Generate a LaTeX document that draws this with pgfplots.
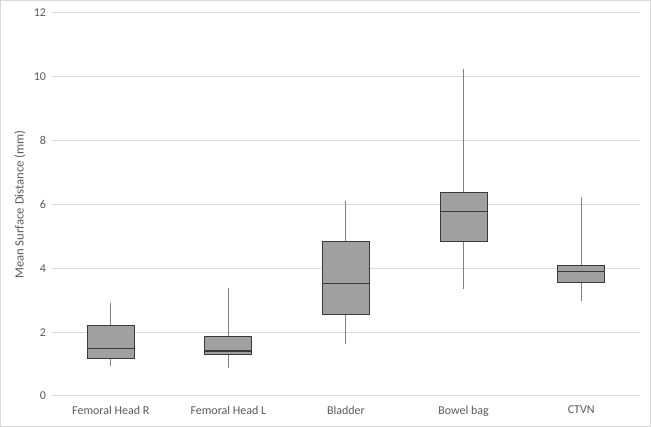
\documentclass[border=0pt]{standalone}
\usepackage{pgfplots}
\pgfplotsset{compat=1.18}
\usepgfplotslibrary{statistics}
\usepackage{fontspec}
\setmainfont{Carlito}
\definecolor{boxfill}{HTML}{A0A0A0}
\definecolor{boxedge}{HTML}{3A3A3A}
\definecolor{whiskgray}{HTML}{808080}
\definecolor{gridgray}{HTML}{D9D9D9}
\definecolor{textgray}{HTML}{595959}
\begin{document}
\begin{tikzpicture}
\draw[draw=gridgray, line width=0.75pt] (0.375pt,0.375pt) rectangle (487.875pt,319.875pt);
\begin{axis}[
  scale only axis, width=441pt, height=287.25pt,
  at={(39pt,23.25pt)}, anchor=south west,
  xmin=-0.5, xmax=4.5, ymin=0, ymax=12,
  ytick={0,2,...,12},
  xtick={0,1,2,3,4},
  xticklabels={Femoral Head R, Femoral Head L, Bladder, Bowel bag, CTVN},
  axis line style={draw=none},
  major tick length=0pt,
  ymajorgrids, xmajorgrids=false,
  grid style={draw=gridgray, line width=0.75pt},
  tick label style={font=\fontsize{9}{10}\selectfont, text=textgray},
  xticklabel style={yshift=-4pt},
  yticklabel style={xshift=-1pt},
  /pgf/number format/assume math mode=true,
  ylabel={Mean Surface Distance (mm)},
  ylabel style={font=\fontsize{9.5}{10}\selectfont, text=textgray},
  ylabel shift=-0.5pt,
  boxplot/draw direction=y,
  boxplot/box extend=0.4,
  boxplot/whisker extend=0,
  boxplot/every box/.style={draw=boxedge, fill=boxfill, line width=0.75pt},
  boxplot/every whisker/.style={draw=whiskgray, line width=0.75pt},
  boxplot/every median/.style={draw=boxedge, line width=0.9pt},
]
\addplot[boxplot prepared={lower whisker=0.94, lower quartile=1.18, median=1.49, upper quartile=2.22, upper whisker=2.92, draw position=0}] coordinates {};
\addplot[boxplot prepared={lower whisker=0.87, lower quartile=1.31, median=1.41, upper quartile=1.85, upper whisker=3.38, draw position=1}] coordinates {};
\addplot[boxplot prepared={lower whisker=1.63, lower quartile=2.56, median=3.52, upper quartile=4.83, upper whisker=6.12, draw position=2}] coordinates {};
\addplot[boxplot prepared={lower whisker=3.34, lower quartile=4.85, median=5.79, upper quartile=6.39, upper whisker=10.25, draw position=3}] coordinates {};
\addplot[boxplot prepared={lower whisker=2.98, lower quartile=3.56, median=3.91, upper quartile=4.08, upper whisker=6.22, draw position=4}] coordinates {};
\end{axis}
\end{tikzpicture}
\end{document}
